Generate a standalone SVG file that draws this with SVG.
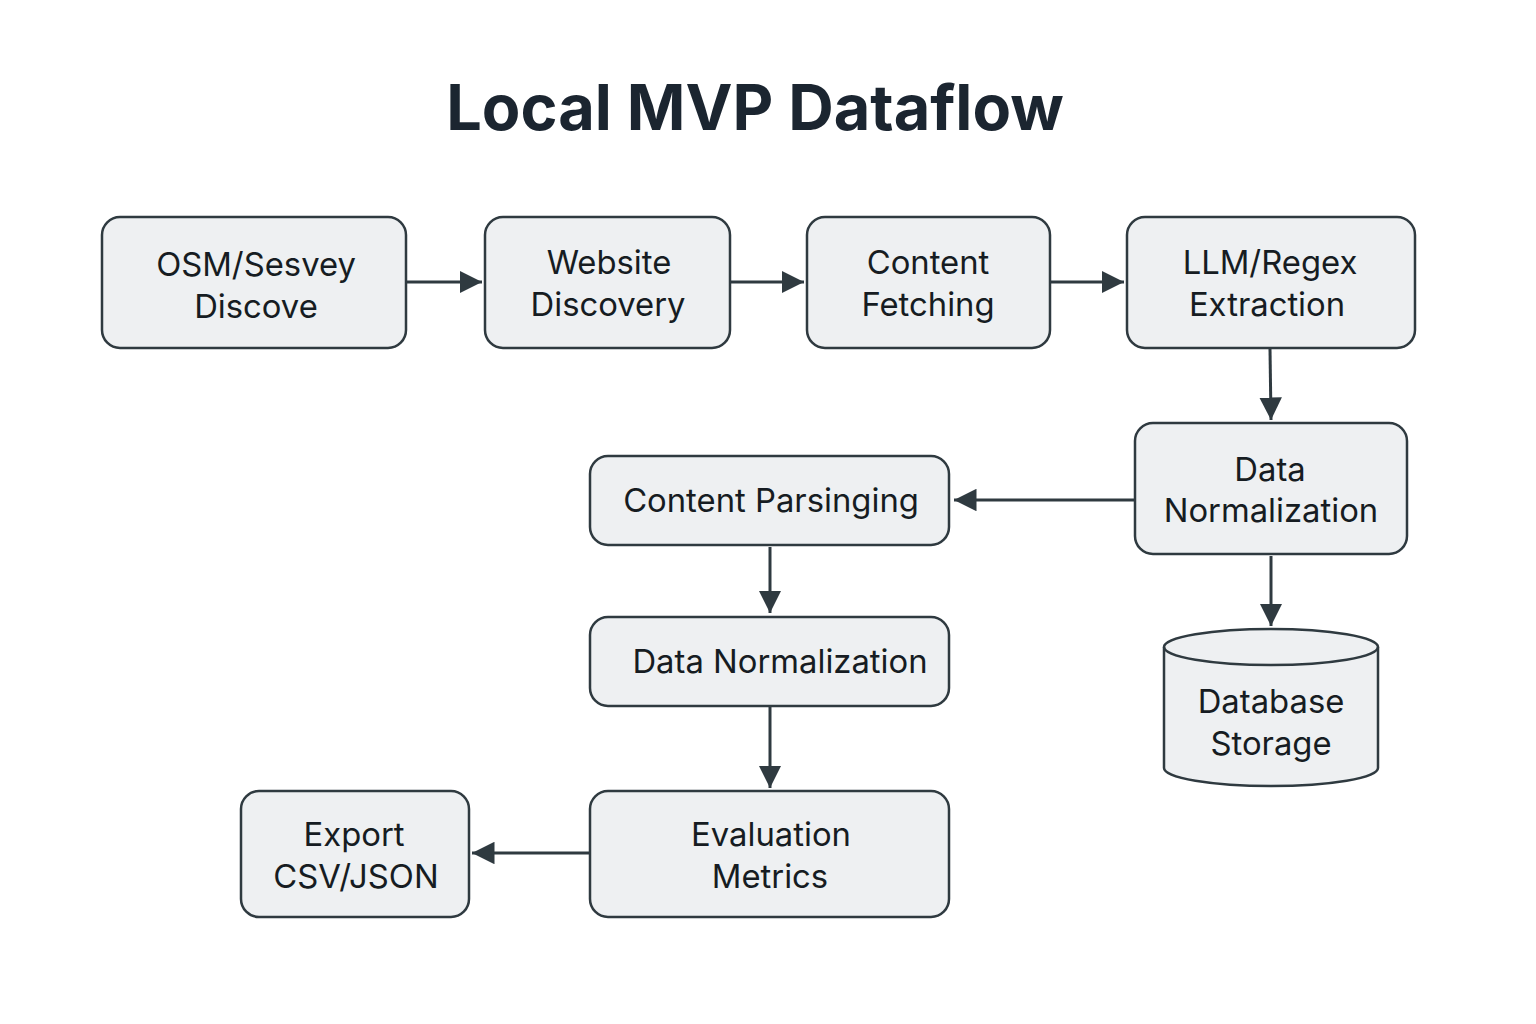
<svg xmlns="http://www.w3.org/2000/svg" width="1536" height="1024" viewBox="0 0 1536 1024">
<style>
.box{fill:#eef0f2;stroke:#2f3a40;stroke-width:2.5}
.t{font-family:Inter,"Open Sans","Liberation Sans",sans-serif;font-size:32.8px;fill:#161c22;text-anchor:middle}
.title{font-family:Inter,"Open Sans","Liberation Sans",sans-serif;font-size:63px;font-weight:700;fill:#1b2530;text-anchor:middle}
.c{stroke:#2f3a40;stroke-width:3;fill:none;marker-end:url(#ah)}
</style>
<defs>
<marker id="ah" viewBox="0 0 10 10" refX="10" refY="5" markerWidth="7.5" markerHeight="7.5" orient="auto" markerUnits="strokeWidth">
<path d="M0,0 L10,5 L0,10 z" fill="#2f3a40"/>
</marker>
</defs>
<rect width="1536" height="1024" fill="#ffffff"/>
<text class="title" x="755" y="130">Local MVP Dataflow</text>
<g id="connectors">
<line class="c" x1="407" y1="282" x2="482" y2="282"/>
<line class="c" x1="731" y1="282" x2="804" y2="282"/>
<line class="c" x1="1051" y1="282" x2="1124" y2="282"/>
<line class="c" x1="1270" y1="349" x2="1271" y2="420"/>
<line class="c" x1="1134" y1="500" x2="954" y2="500"/>
<line class="c" x1="1271" y1="556" x2="1271" y2="626"/>
<line class="c" x1="770" y1="547" x2="770" y2="613"/>
<line class="c" x1="770" y1="707" x2="770" y2="788"/>
<line class="c" x1="589" y1="853" x2="472" y2="853"/>
</g>
<g id="n1"><rect class="box" x="102" y="217" width="304" height="131" rx="18"/><text class="t" x="256" y="276">OSM/Sesvey</text><text class="t" x="256" y="318">Discove</text></g>
<g id="n2"><rect class="box" x="485" y="217" width="245" height="131" rx="18"/><text class="t" x="609" y="274">Website</text><text class="t" x="608" y="316">Discovery</text></g>
<g id="n3"><rect class="box" x="807" y="217" width="243" height="131" rx="18"/><text class="t" x="928" y="274">Content</text><text class="t" x="928" y="316">Fetching</text></g>
<g id="n4"><rect class="box" x="1127" y="217" width="288" height="131" rx="18"/><text class="t" x="1270" y="274">LLM/Regex</text><text class="t" x="1267" y="316">Extraction</text></g>
<g id="n5"><rect class="box" x="1135" y="423" width="272" height="131" rx="18"/><text class="t" x="1270" y="481">Data</text><text class="t" x="1271" y="522">Normalization</text></g>
<g id="n6"><rect class="box" x="590" y="456" width="359" height="89" rx="18"/><text class="t" x="771" y="512">Content Parsinging</text></g>
<g id="n7"><rect class="box" x="590" y="617" width="359" height="89" rx="18"/><text class="t" x="780" y="673">Data Normalization</text></g>
<g id="n8"><rect class="box" x="590" y="791" width="359" height="126" rx="18"/><text class="t" x="771" y="846">Evaluation</text><text class="t" x="770" y="888">Metrics</text></g>
<g id="n9"><rect class="box" x="241" y="791" width="228" height="126" rx="18"/><text class="t" x="354" y="846">Export</text><text class="t" x="356" y="888">CSV/JSON</text></g>
<g id="n10">
<path class="box" d="M1164,647 A107,18 0 0 1 1378,647 L1378,768 A107,18 0 0 1 1164,768 Z"/>
<path d="M1164,647 A107,18 0 0 0 1378,647" fill="none" stroke="#2f3a40" stroke-width="2.5"/>
<text class="t" x="1271" y="713">Database</text><text class="t" x="1271" y="755">Storage</text>
</g>
</svg>
